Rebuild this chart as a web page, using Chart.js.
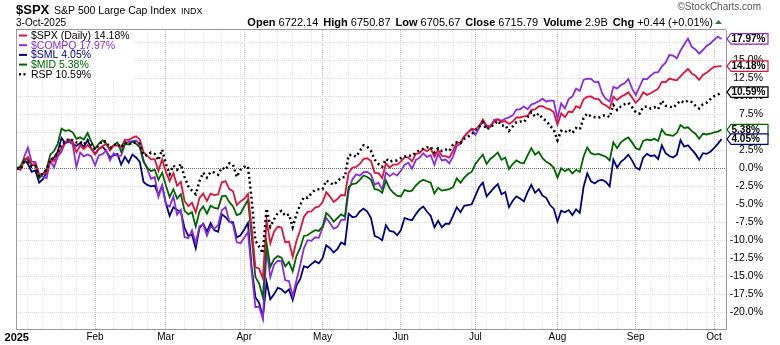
<!DOCTYPE html>
<html>
<head>
<meta charset="utf-8">
<title>$SPX vs $COMPQ, $SML, $MID, RSP - 2025</title>
<script src="https://cdn.jsdelivr.net/npm/chart.js@4.4.1/dist/chart.umd.min.js"></script>
<style>
    html, body { margin: 0; padding: 0; background: #fff; }
    canvas { display: block; }
</style>
</head>
<body>
<canvas id="perfChart" width="780" height="345"></canvas>
<script>
// x = trading day index: 0 is the 31-Dec-2024 base close, 189 is 3-Oct-2025
const monthTicks = [0, 21, 40, 61, 82, 103, 123, 145, 166, 187];
const monthNames = ['2025', 'Feb', 'Mar', 'Apr', 'May', 'Jun', 'Jul', 'Aug', 'Sep', 'Oct'];
// first session of each week (month starts are in monthTicks)
const weekTicks = [3, 7, 12, 16, 26, 31, 35, 45, 50, 55, 60, 65, 70, 74, 79, 84, 89, 94, 99,
    108, 113, 117, 122, 126, 131, 136, 141, 146, 151, 156, 161, 170, 175, 180, 185];
const yTicks = [-20, -17.5, -15, -12.5, -10, -7.5, -5, -2.5, 0, 2.5, 5, 7.5, 10, 12.5, 15, 17.5];

// % change since the base close
const spx = [
    0, -0.22, 1.03, 1.60, 0.47, 0.62, -0.93, -0.77, -0.66, 1.16,
    0.95, 1.96, 2.85, 3.48, 4.03, 3.73, 2.22, 3.16, 2.68, 3.22,
    2.70, 1.92, 2.66, 3.06, 3.43, 2.45, 3.14, 3.18, 2.90, 3.97,
    3.96, 4.22, 4.46, 4.01, 2.24, 1.73, 1.25, 1.27, -0.34, 1.24,
    -0.54, -1.76, -0.66, -2.43, -1.89, -4.54, -5.26, -4.80, -6.12, -4.13,
    -3.51, -4.54, -3.51, -3.72, -3.64, -1.94, -1.78, -2.88, -3.20, -5.11,
    -4.59, -4.23, -3.58, -8.25, -13.73, -13.93, -15.28, -7.22, -10.43, -8.81,
    -8.09, -8.25, -10.30, -10.18, -12.30, -10.10, -8.60, -6.75, -6.06, -6.00,
    -5.45, -5.31, -4.72, -3.31, -3.93, -4.67, -4.26, -3.70, -3.77, -0.64,
    0.08, 0.19, 0.60, 1.30, 1.39, 1.00, -0.63, -0.67, -1.34, 0.68,
    0.12, 0.52, 0.51, 0.92, 1.51, 1.52, 0.98, 2.02, 2.11, 2.67,
    2.39, 2.78, 1.62, 2.58, 1.72, 1.69, 1.47, 2.44, 3.58, 3.58,
    4.41, 4.95, 5.50, 5.38, 5.88, 6.76, 5.92, 5.85, 6.49, 6.78,
    6.43, 6.58, 6.16, 6.50, 7.07, 7.06, 7.21, 7.28, 8.11, 8.19,
    8.62, 8.64, 8.32, 8.18, 7.78, 6.06, 7.62, 7.10, 7.88, 7.79,
    8.63, 8.36, 9.59, 9.94, 9.98, 9.66, 9.65, 9.01, 8.74, 8.31,
    9.95, 9.48, 9.93, 10.20, 10.55, 9.84, 9.08, 9.63, 10.55, 10.20,
    10.43, 10.73, 11.06, 12.00, 11.95, 12.47, 12.33, 12.22, 12.76, 13.31,
    13.81, 13.18, 12.86, 12.29, 12.96, 13.26, 13.72, 14.10, 14.17, 14.18
];
const compq = [
    0, -0.16, 1.61, 2.87, 0.92, 0.87, -0.77, -1.15, -1.38, 1.04,
    0.14, 1.65, 2.31, 3.62, 3.84, 3.33, 0.16, 2.19, 1.66, 1.92,
    1.64, 0.42, 1.78, 1.97, 2.49, 1.10, 2.09, 1.72, 1.75, 3.29,
    3.71, 3.78, 3.86, 3.37, 1.10, -0.12, -1.47, -1.22, -3.97, -2.40,
    -4.98, -5.31, -3.93, -6.43, -5.77, -9.54, -9.71, -8.61, -10.40, -8.06,
    -7.78, -9.36, -8.08, -8.39, -7.91, -5.81, -5.38, -7.31, -7.80, -10.29,
    -10.42, -9.64, -8.85, -14.29, -19.28, -19.20, -20.94, -11.32, -15.14, -13.39,
    -12.84, -12.88, -15.55, -15.66, -17.81, -15.59, -13.48, -11.11, -9.98, -10.07,
    -9.58, -9.66, -8.29, -6.90, -7.60, -8.40, -8.14, -7.16, -7.16, -3.12,
    -1.56, -0.85, -1.03, -0.52, -0.49, -0.87, -2.27, -1.99, -2.97, -0.58,
    -1.09, -0.70, -1.02, -0.35, 0.46, 0.77, -0.07, 1.14, 1.45, 2.09,
    1.58, 1.82, 0.50, 2.02, 1.09, 1.22, 0.71, 1.66, 3.11, 3.43,
    4.44, 4.98, 5.48, 4.62, 5.60, 6.68, 5.70, 5.73, 6.73, 6.83,
    6.60, 6.88, 7.08, 7.35, 8.15, 8.20, 8.61, 8.19, 8.85, 9.05,
    9.31, 9.67, 9.26, 9.42, 9.38, 6.93, 9.02, 8.31, 9.62, 10.00,
    11.08, 10.74, 12.28, 12.44, 12.43, 11.97, 12.01, 10.38, 9.64, 9.27,
    11.32, 11.07, 11.56, 11.80, 12.40, 11.11, 10.19, 11.32, 12.41, 12.37,
    12.88, 13.30, 13.34, 14.15, 14.66, 15.73, 15.66, 15.28, 16.36, 17.19,
    18.01, 16.90, 16.50, 15.92, 16.43, 16.99, 17.34, 17.84, 18.30, 17.97
];
const sml = [
    0, 0.1, 1.2, 0.6, -0.5, -0.3, -2.0, -1.5, -0.6, 1.2,
    1.5, 2.3, 4.2, 3.5, 3.7, 3.4, 3.1, 3.5, 3.0, 3.9,
    2.7, 2.0, 2.7, 3.0, 2.4, 1.5, 1.8, 2.0, 0.5, 1.6,
    0.8, 1.9, 1.5, 0.9, -1.9, -2.3, -2.5, -2.4, -3.7, -2.4,
    -4.9, -6.6, -5.4, -5.8, -6.0, -8.3, -9.4, -9.2, -11.1, -8.3,
    -7.7, -8.8, -7.6, -8.6, -8.8, -6.4, -6.8, -7.4, -7.5, -9.6,
    -9.3, -8.5, -7.6, -13.8, -17.9, -18.7, -20.7, -15.8, -18.2, -17.5,
    -16.6, -16.8, -17.3, -16.8, -18.3, -16.3, -15.4, -13.6, -13.8, -13.3,
    -12.9, -13.2, -12.5, -10.7, -11.1, -11.7, -11.2, -10.3, -10.6, -6.3,
    -6.8, -6.7, -6.0, -5.6, -6.0, -6.9, -9.4, -9.6, -10.0, -7.9,
    -8.7, -8.8, -9.3, -8.6, -6.9, -7.1, -7.2, -6.4, -5.7, -5.3,
    -6.0, -6.6, -8.2, -7.3, -8.2, -7.7, -7.7, -6.6, -5.4, -6.1,
    -5.2, -5.1, -5.0, -3.8, -2.6, -2.0, -3.9, -3.3, -2.7, -2.2,
    -3.6, -3.3, -5.4, -4.5, -3.9, -4.2, -4.6, -3.3, -2.3, -3.4,
    -2.9, -3.8, -4.1, -5.1, -5.6, -7.4, -5.9, -6.1, -5.8, -6.5,
    -5.7, -6.2, -2.6, -0.7, -1.8, -2.1, -1.7, -1.6, -1.9, -2.5,
    1.2, 0.1, 0.9, 1.3, 1.9, 1.1, 0.1, -0.2, 1.5, 2.0,
    1.7, 1.8, 1.3, 3.2, 2.1, 1.7, 1.5, 1.9, 3.9, 3.0,
    3.2, 2.6, 2.0, 1.2, 2.1, 2.0, 2.3, 2.8, 3.4, 4.05
];
const mid = [
    0, 0.3, 1.3, 1.2, 0.4, 0.5, -1.4, -0.8, -0.1, 1.9,
    2.4, 3.4, 5.5, 5.2, 5.3, 5.0, 4.1, 4.3, 4.0, 4.9,
    3.7, 2.7, 3.4, 3.9, 3.4, 2.6, 3.2, 3.6, 2.3, 3.4,
    3.3, 3.7, 3.4, 2.9, 0.9, 0.1, -0.4, -0.2, -1.6, -0.6,
    -2.4, -4.0, -2.9, -4.2, -3.6, -5.9, -6.4, -6.1, -8.1, -6.0,
    -5.3, -6.3, -5.2, -5.5, -5.6, -3.9, -3.8, -4.7, -5.3, -6.5,
    -6.3, -5.3, -4.4, -9.5, -15.1, -16.0, -17.9, -10.4, -13.7, -12.6,
    -12.2, -12.4, -13.6, -13.0, -14.3, -12.2, -11.1, -9.4, -9.3, -8.9,
    -8.6, -8.7, -8.1, -6.2, -6.7, -7.4, -6.9, -6.4, -6.7, -2.6,
    -2.2, -2.1, -1.6, -1.0, -1.2, -1.6, -2.9, -3.0, -3.4, -1.7,
    -2.8, -3.4, -3.8, -3.9, -3.0, -3.2, -3.1, -2.4, -1.9, -1.6,
    -1.8, -2.0, -3.5, -2.7, -3.1, -3.0, -2.9, -2.6, -1.4, -2.0,
    -1.3, -0.8, -0.5, 0.6, 1.3, 1.9, 0.6, 1.3, 1.7, 2.2,
    1.2, 1.5, -0.1, 0.6, 1.1, 0.8, 0.7, 1.8, 2.8, 1.9,
    2.3, 1.4, 0.9, 0.6, 0.1, -1.3, 0.0, -0.4, -0.1, -0.7,
    -0.2, -0.5, 1.6, 2.9, 2.1, 1.9, 2.0, 1.8, 1.6, 1.1,
    3.6, 2.8, 3.6, 4.0, 4.3, 3.6, 2.8, 2.6, 3.8, 4.0,
    3.9, 4.1, 3.8, 5.4, 4.7, 4.6, 4.5, 4.9, 6.0, 5.6,
    5.7, 5.2, 4.8, 4.1, 4.8, 4.7, 4.8, 5.0, 5.1, 5.38
];
const rsp = [
    0, -0.1, 0.9, 0.9, 0.2, 0.3, -1.2, -0.7, -0.2, 1.2,
    1.4, 2.2, 3.4, 3.6, 4.1, 3.9, 3.6, 3.7, 3.3, 3.9,
    3.3, 2.6, 3.2, 3.8, 3.7, 2.8, 3.2, 3.4, 2.9, 3.6,
    3.3, 3.6, 3.6, 3.4, 1.8, 1.8, 2.2, 2.0, 1.1, 2.6,
    0.6, -0.8, 0.4, -0.2, 0.6, -1.2, -2.5, -3.1, -3.6, -1.8,
    -0.6, -1.3, -0.5, -0.6, -0.9, 0.1, -0.2, 0.7, 0.5, -1.2,
    -0.2, 0.2, 0.3, -4.4, -10.0, -10.9, -11.8, -5.6, -8.1, -7.1,
    -6.2, -5.9, -6.6, -6.4, -8.2, -6.4, -5.1, -4.0, -4.1, -3.5,
    -3.0, -2.9, -2.9, -1.7, -2.0, -2.3, -1.8, -1.3, -1.2, 1.8,
    1.9, 1.6, 2.4, 3.2, 3.0, 2.4, 1.2, 0.6, 0.2, 1.3,
    0.9, 1.1, 1.1, 1.4, 1.6, 1.8, 1.7, 2.2, 2.5, 2.7,
    2.9, 3.0, 2.2, 2.8, 2.4, 2.6, 2.4, 3.3, 3.6, 3.5,
    4.1, 4.4, 4.7, 5.3, 5.8, 6.4, 5.4, 5.7, 6.1, 6.6,
    5.9, 6.0, 5.2, 5.8, 6.4, 6.5, 6.4, 7.1, 7.8, 7.2,
    7.6, 6.9, 6.6, 5.9, 5.4, 3.9, 5.2, 5.0, 5.4, 4.9,
    5.6, 5.4, 7.0, 7.6, 7.2, 7.1, 7.0, 7.3, 7.4, 7.1,
    8.8, 8.1, 8.6, 8.9, 9.1, 8.5, 7.8, 7.6, 8.5, 8.6,
    8.3, 8.5, 8.2, 9.4, 8.7, 8.6, 8.4, 8.9, 9.4, 9.1,
    9.4, 9.2, 8.7, 8.3, 8.9, 9.1, 9.6, 10.0, 10.2, 10.59
];

// header quote line
const quoteFields = ['Open', 'High', 'Low', 'Close', 'Volume', 'Chg'];
const quoteValues = ['6722.14', '6750.87', '6705.67', '6715.79', '2.9B', '+0.44 (+0.01%)'];

const FONT = '"Liberation Sans", Arial, Helvetica, sans-serif';

const seriesList = [
    { name: '$SPX (Daily)', values: spx, color: '#dc143c', text: '#000000', dash: [], width: 1.8, order: 1 },
    { name: '$COMPQ', values: compq, color: '#8a2be2', text: '#8a2be2', dash: [], width: 1.8, order: 3 },
    { name: '$SML', values: sml, color: '#000080', text: '#000080', dash: [], width: 1.8, order: 4 },
    { name: '$MID', values: mid, color: '#006400', text: '#006400', dash: [], width: 1.8, order: 2 },
    { name: 'RSP', values: rsp, color: '#000000', text: '#000000', dash: [2, 3], width: 2.5, order: 0 }
];

function lastValue(s) {
    return s.values[s.values.length - 1];
}

function pctText(v) {
    return v.toFixed(2) + '%';
}

function drawHeader(ctx) {
    ctx.save();
    ctx.fillStyle = '#000';
    ctx.textBaseline = 'alphabetic';
    ctx.textAlign = 'left';
    ctx.font = 'bold 13px ' + FONT;
    ctx.fillText('$SPX', 16, 14);
    ctx.font = '10.5px ' + FONT;
    const title = 'S&P 500 Large Cap Index';
    ctx.fillText(title, 54, 14);
    const titleEnd = 54 + ctx.measureText(title).width;
    ctx.font = '9px ' + FONT;
    ctx.fillText('INDX', titleEnd + 5, 14);
    ctx.font = '10px ' + FONT;
    ctx.fillText('3-Oct-2025', 16, 26);

    ctx.fillStyle = '#555';
    ctx.font = '10px ' + FONT;
    ctx.textAlign = 'right';
    ctx.fillText('\u00A9StockCharts.com', 761, 10);

    // quote row, right aligned before the up arrow
    ctx.textAlign = 'left';
    const bold = 'bold 11px ' + FONT;
    const normal = '11px ' + FONT;
    const gap = 5;
    let total = 0;
    quoteFields.forEach((f, k) => {
        ctx.font = bold;
        total += ctx.measureText(f).width;
        ctx.font = normal;
        total += ctx.measureText(' ' + quoteValues[k]).width;
        if (k < quoteFields.length - 1) total += gap;
    });
    let x = 713 - total;
    ctx.fillStyle = '#000';
    quoteFields.forEach((f, k) => {
        ctx.font = bold;
        ctx.fillText(f, x, 26);
        x += ctx.measureText(f).width;
        ctx.font = normal;
        ctx.fillText(' ' + quoteValues[k], x, 26);
        x += ctx.measureText(' ' + quoteValues[k]).width + gap;
    });
    ctx.fillStyle = '#2e7d32';
    ctx.beginPath();
    ctx.moveTo(715, 24);
    ctx.lineTo(722, 24);
    ctx.lineTo(718.5, 20);
    ctx.closePath();
    ctx.fill();
    ctx.restore();
}

function drawFrame(ctx, area) {
    ctx.save();
    ctx.strokeStyle = '#9a9a9a';
    ctx.lineWidth = 1;
    ctx.beginPath();
    ctx.moveTo(area.left + 0.5, area.top);
    ctx.lineTo(area.left + 0.5, area.bottom);
    ctx.moveTo(area.left, area.top - 0.5);
    ctx.lineTo(area.right, area.top - 0.5);
    ctx.stroke();
    ctx.restore();
}

function drawLegend(ctx, area) {
    ctx.save();
    ctx.font = '10.5px ' + FONT;
    const rowH = 9.7;
    let w = 0;
    seriesList.forEach(s => {
        w = Math.max(w, ctx.measureText(s.name + ' ' + pctText(lastValue(s))).width);
    });
    ctx.fillStyle = '#fff';
    ctx.fillRect(area.left + 1, area.top, w + 18, rowH * 5 + 2);
    ctx.textBaseline = 'middle';
    seriesList.forEach((s, k) => {
        const y = area.top + 5.5 + k * rowH;
        ctx.strokeStyle = s.color;
        ctx.lineWidth = s.dash.length ? 2.5 : 2;
        ctx.setLineDash(s.dash.length ? [2, 2.5] : []);
        ctx.beginPath();
        ctx.moveTo(19, y);
        ctx.lineTo(27, y);
        ctx.stroke();
        ctx.setLineDash([]);
        ctx.fillStyle = s.text;
        ctx.fillText(s.name + ' ' + pctText(lastValue(s)), 31, y + 0.5);
    });
    ctx.restore();
}

function drawTag(ctx, y, text, color) {
    const x0 = 727, x1 = 768, h = 10.5;
    ctx.beginPath();
    ctx.moveTo(x0, y);
    ctx.lineTo(x0 + 4, y - h / 2);
    ctx.lineTo(x1, y - h / 2);
    ctx.lineTo(x1, y + h / 2);
    ctx.lineTo(x0 + 4, y + h / 2);
    ctx.closePath();
    ctx.fillStyle = '#fff';
    ctx.fill();
    ctx.strokeStyle = color;
    ctx.lineWidth = 1.2;
    ctx.stroke();
    ctx.fillStyle = '#000';
    ctx.font = 'bold 10px ' + FONT;
    ctx.textAlign = 'left';
    ctx.textBaseline = 'middle';
    ctx.fillText(text, x0 + 4.5, y + 0.5);
}

function drawTags(chart) {
    const ctx = chart.ctx;
    const yScale = chart.scales.y;
    ctx.save();
    [...seriesList]
        .sort((a, b) => lastValue(b) - lastValue(a))
        .forEach(s => {
            const v = lastValue(s);
            drawTag(ctx, yScale.getPixelForValue(v), pctText(v), s.color);
        });
    ctx.restore();
}

const overlayPlugin = {
    id: 'overlay',
    afterDatasetsDraw(chart) {
        drawFrame(chart.ctx, chart.chartArea);
        drawLegend(chart.ctx, chart.chartArea);
    },
    afterDraw(chart) {
        drawHeader(chart.ctx);
        drawTags(chart);
    }
};

function initializeChart() {
    const xTickValues = [...new Set([...monthTicks, ...weekTicks])].sort((a, b) => a - b);

    const datasets = seriesList.map(s => ({
        label: s.name,
        data: s.values.map((v, i) => ({ x: i, y: v })),
        borderColor: s.color,
        borderWidth: s.width,
        borderDash: s.dash,
        borderCapStyle: 'butt',
        pointRadius: 0,
        tension: 0,
        fill: false,
        order: s.order
    }));

    Chart.defaults.font.family = FONT;

    new Chart(document.getElementById('perfChart').getContext('2d'), {
        type: 'line',
        data: { datasets: datasets },
        options: {
            responsive: false,
            animation: false,
            devicePixelRatio: 1,
            events: [],
            layout: { padding: { left: 16, right: 17, top: 30, bottom: 0 } },
            plugins: {
                legend: { display: false },
                tooltip: { enabled: false }
            },
            scales: {
                x: {
                    type: 'linear',
                    min: -0.2,
                    max: 190.2,
                    afterBuildTicks: scale => {
                        scale.ticks = xTickValues.map(v => ({ value: v }));
                    },
                    afterFit: scale => { scale.height = 16; },
                    grid: {
                        drawTicks: false,
                        lineWidth: 1,
                        color: c => {
                            if (!c.tick) return '#e2e2e2';
                            if (c.tick.value === 0) return '#9a9a9a';
                            return monthTicks.includes(c.tick.value) ? '#c2c2c2' : '#e2e2e2';
                        }
                    },
                    border: { display: true, color: '#9a9a9a', dash: [1, 1] },
                    ticks: {
                        autoSkip: false,
                        maxRotation: 0,
                        padding: 2,
                        color: '#000',
                        font: c => ({
                            size: c.tick && c.tick.value === 0 ? 11 : 10,
                            weight: c.tick && c.tick.value === 0 ? 'bold' : 'normal'
                        }),
                        callback: v => {
                            const k = monthTicks.indexOf(v);
                            return k < 0 ? '' : monthNames[k];
                        }
                    }
                },
                y: {
                    position: 'right',
                    min: -22.32,
                    max: 19.21,
                    afterBuildTicks: scale => {
                        scale.ticks = yTicks.map(v => ({ value: v }));
                    },
                    afterFit: scale => { scale.width = 37; },
                    grid: {
                        drawTicks: false,
                        lineWidth: 1,
                        color: c => (c.tick && c.tick.value === 0 ? '#6e6e6e' : '#dadada')
                    },
                    border: { display: true, color: '#9a9a9a', dash: [1, 1] },
                    ticks: {
                        crossAlign: 'far',
                        padding: 4,
                        color: '#000',
                        font: { size: 10.5 },
                        callback: v => v.toFixed(1) + '%'
                    }
                }
            }
        },
        plugins: [overlayPlugin]
    });
}

document.addEventListener('DOMContentLoaded', initializeChart);
</script>
</body>
</html>
